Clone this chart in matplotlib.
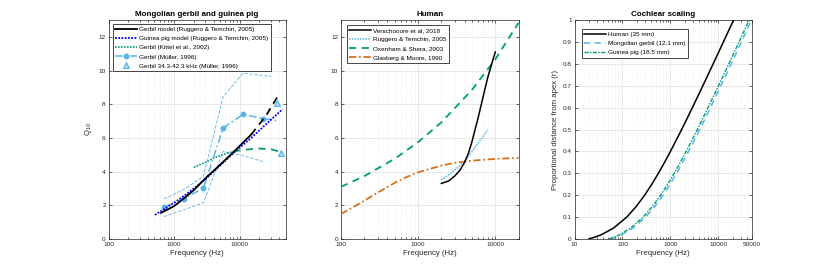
import matplotlib
matplotlib.use("Agg")
import matplotlib.pyplot as plt
from matplotlib.ticker import LogLocator, NullFormatter, FixedLocator, FixedFormatter

plt.rcParams['font.family'] = ['Liberation Sans', 'DejaVu Sans']
plt.rcParams['mathtext.default'] = 'regular'

# ---------------- data: panel 1 (gerbil & guinea pig) ----------------
gerbil_model_f = [630, 1000, 1400, 2000, 3000, 5000, 8000, 15000]
gerbil_model_q = [1.55, 1.95, 2.4, 2.9, 3.6, 4.4, 5.15, 6.2]
gerbil_model_ext_f = [15000, 25000, 40000]
gerbil_model_ext_q = [6.2, 7.3, 8.6]

gpig_model_f = [510, 1000, 1400, 2000, 3000, 5000, 8000, 15000, 25000, 45000]
gpig_model_q = [1.43, 2.15, 2.55, 3.0, 3.55, 4.35, 5.1, 6.0, 6.8, 7.7]

kittel_f = [2000, 3000, 4000, 5000, 6000, 8000]
kittel_q = [4.25, 4.55, 4.8, 4.95, 5.05, 5.2]
kittel_ext_f = [8000, 12000, 20000, 30000, 40000]
kittel_ext_q = [5.2, 5.3, 5.37, 5.33, 5.2]

muller_f = [700, 1400, 2800, 5600, 11300, 22600, 40000]
muller_q = [1.89, 2.39, 3.02, 6.6, 7.4, 7.15, 7.0]
muller_up_f = [700, 1400, 2800, 5600, 11300, 30000]
muller_up_q = [2.39, 2.93, 3.72, 8.45, 9.85, 9.65]
muller_lo_f = [700, 1400, 2800, 5600, 11300, 22600]
muller_lo_q = [1.33, 1.73, 2.15, 5.2, 4.95, 4.6]

muller_hi_f = [37000, 42300]
muller_hi_q = [8.06, 5.1]

# ---------------- data: panel 2 (human) ----------------
versch_f = [2000, 2500, 3000, 3500, 4000, 4500, 5000, 6000, 7000, 8000, 9000, 10000]
versch_q = [3.3, 3.45, 3.75, 4.1, 4.55, 5.1, 5.8, 7.2, 8.5, 9.6, 10.4, 11.1]

rt_human_f = [2000, 3000, 4000, 5000, 6000, 7000, 8000]
rt_human_q = [3.5, 4.1, 4.6, 5.2, 5.7, 6.1, 6.5]

oxen_f = [100, 200, 500, 1000, 2000, 5000, 10000, 20000]
oxen_q = [3.1, 3.73, 4.77, 5.75, 6.92, 8.86, 10.66, 12.83]

gm_f = [100, 200, 300, 500, 700, 1000, 2000, 3000, 5000, 10000, 20000]
gm_q = [1.48, 2.27, 2.76, 3.34, 3.67, 3.96, 4.36, 4.52, 4.65, 4.76, 4.81]

# ---------------- data: panel 3 (cochlear scaling) ----------------
r_pos = [0, 0.01, 0.02, 0.05, 0.1, 0.15, 0.2, 0.25, 0.3, 0.35, 0.4, 0.5, 0.6, 0.7, 0.8, 0.9, 1.0]
human_f = [19.8, 28.0, 36.7, 65.2, 122.7, 196, 289.5, 408.5, 560, 753, 998.7, 1710, 2865, 4735, 7770, 12693, 20677]
gerbil_f = [57, 76, 97, 165, 303, 478, 700, 983, 1343, 1800, 2385, 4075, 6815, 11250, 18450, 30130, 49000]
gpig_f = [52.5, 69.7, 88.2, 148.4, 270, 425, 623, 875, 1196, 1604, 2124, 3630, 6073, 10031, 16454, 26870, 43764]

q_ticks = [0, 2, 4, 6, 8, 10, 12]
r_ticks = [0, 0.1, 0.2, 0.3, 0.4, 0.5, 0.6, 0.7, 0.8, 0.9, 1]
r_tick_labels = ['0', '0.1', '0.2', '0.3', '0.4', '0.5', '0.6', '0.7', '0.8', '0.9', '1']

# ---------------- styling ----------------
LBLUE = '#56B4E9'
TEAL = '#009E73'
ORANGE = '#D9711C'
AXC = '#262626'
TICK_FS = 4.6
LAB_FS = 5.6
TITLE_FS = 5.8
LEG_FS = 4.6

fig = plt.figure(figsize=(8.30, 2.69), dpi=100)
W, H = 830.0, 269.0


def make_ax(left, right, top=20.0, bottom=239.0):
    return fig.add_axes([left / W, (H - bottom) / H, (right - left) / W, (bottom - top) / H])


def style(ax, xticks, xlabels):
    ax.set_xscale('log')
    ax.xaxis.set_major_locator(FixedLocator(xticks))
    ax.xaxis.set_major_formatter(FixedFormatter(xlabels))
    ax.xaxis.set_minor_locator(LogLocator(base=10, subs=range(2, 10), numticks=20))
    ax.xaxis.set_minor_formatter(NullFormatter())
    ax.tick_params(which='both', direction='in', top=True, right=True,
                   labelsize=TICK_FS, colors=AXC, width=0.5, pad=2)
    ax.tick_params(which='major', length=2.5)
    ax.tick_params(which='minor', length=1.3)
    for s in ax.spines.values():
        s.set_color(AXC)
        s.set_linewidth(0.5)
    ax.grid(True, which='major', color='#e0e0e0', linewidth=0.5)
    ax.grid(True, which='minor', axis='x', color='#e3e3e3', linewidth=0.4, linestyle=(0, (1, 1.5)))
    ax.set_axisbelow(True)
    ax.set_xlabel('Frequency (Hz)', fontsize=LAB_FS, color=AXC, labelpad=2)


def legend(ax, x, y):
    leg = ax.legend(loc='upper left', bbox_to_anchor=(x, y), borderaxespad=0,
                    fontsize=LEG_FS, handlelength=3.4, handletextpad=0.3,
                    labelspacing=0.58, borderpad=0.4, fancybox=False,
                    framealpha=1, edgecolor=AXC)
    leg.get_frame().set_linewidth(0.6)
    return leg


# ---------------- panel 1 ----------------
ax1 = make_ax(108.5, 285.5)
ax1.plot(gerbil_model_f, gerbil_model_q, color='black', lw=1.3,
         label='Gerbil model (Ruggero & Temchin, 2005)', zorder=5)
ax1.plot(gerbil_model_ext_f, gerbil_model_ext_q, color='black', lw=1.3,
         linestyle=(0, (4, 3)), zorder=5)
ax1.plot(gpig_model_f, gpig_model_q, color='#0000ff', lw=1.3, linestyle=(0, (1, 0.8)),
         label='Guinea pig model (Ruggero & Temchin, 2005)', zorder=4)
ax1.plot(kittel_f, kittel_q, color=TEAL, lw=1.2, linestyle=(0, (1, 0.8)),
         label='Gerbil (Kittel et al., 2002)', zorder=3)
ax1.plot(kittel_ext_f, kittel_ext_q, color=TEAL, lw=1.3, linestyle=(0, (4, 3)), zorder=3)
ax1.plot(muller_f, muller_q, color=LBLUE, lw=1.1, linestyle=(0, (5, 2, 1, 2)),
         marker='o', markersize=3.2, markevery=list(range(6)),
         label='Gerbil (Müller, 1996)', zorder=3)
ax1.plot(muller_up_f, muller_up_q, color=LBLUE, lw=0.6, linestyle=(0, (4, 2)), zorder=2)
ax1.plot(muller_lo_f, muller_lo_q, color=LBLUE, lw=0.6, linestyle=(0, (4, 2)), zorder=2)
ax1.plot(muller_hi_f, muller_hi_q, linestyle='none', marker='^', markersize=4,
         markerfacecolor='#a9d8f3', markeredgecolor=LBLUE, markeredgewidth=0.8,
         label='Gerbil 34.3-42.3 kHz (Müller, 1996)', zorder=6)
ax1.set_xlim(100, 50000)
ax1.set_ylim(0, 13)
ax1.set_yticks(q_ticks)
style(ax1, [100, 1000, 10000], ['100', '1000', '10000'])
ax1.set_ylabel('Q$_{10}$', fontsize=LAB_FS, color=AXC, labelpad=3)
ax1.set_title('Mongolian gerbil and guinea pig', fontsize=TITLE_FS, fontweight='bold', pad=3)
legend(ax1, 0.024, 0.982)

# ---------------- panel 2 ----------------
ax2 = make_ax(341, 518.5)
ax2.plot(versch_f, versch_q, color='black', lw=1.1, label='Verschooore et al, 2018', zorder=5)
ax2.plot(rt_human_f, rt_human_q, color=LBLUE, lw=1.1, linestyle=(0, (1, 0.8)),
         label='Ruggero & Temchin, 2005', zorder=4)
ax2.plot(oxen_f, oxen_q, color=TEAL, lw=1.3, linestyle=(0, (4, 3)),
         label='Oxenham & Shera, 2003', zorder=3)
ax2.plot(gm_f, gm_q, color=ORANGE, lw=1.3, linestyle=(0, (4, 1.5, 1, 1.5)),
         label='Glasberg & Moore, 1990', zorder=3)
ax2.set_xlim(100, 20000)
ax2.set_ylim(0, 13)
ax2.set_yticks(q_ticks)
style(ax2, [100, 1000, 10000], ['100', '1000', '10000'])
ax2.set_title('Human', fontsize=TITLE_FS, fontweight='bold', pad=3)
legend(ax2, 0.032, 0.977)

# ---------------- panel 3 ----------------
ax3 = make_ax(574.5, 752)
ax3.plot(human_f, r_pos, color='black', lw=1.1, label='Human (35 mm)', zorder=4)
ax3.plot(gerbil_f, r_pos, color=LBLUE, lw=1.1, linestyle=(0, (4, 3)),
         label='Mongolian gerbil (12.1 mm)', zorder=3)
ax3.plot(gpig_f, r_pos, color=TEAL, lw=1.0, linestyle=(0, (3, 1, 1, 1)),
         label='Guinea pig (18.5 mm)', zorder=3)
ax3.set_xlim(10, 50000)
ax3.set_ylim(0, 1)
ax3.set_yticks(r_ticks)
ax3.set_yticklabels(r_tick_labels)
style(ax3, [10, 100, 1000, 10000, 50000], ['10', '100', '1000', '10000', '50000'])
ax3.set_ylabel('Proportional distance from apex (r)', fontsize=LAB_FS, color=AXC, labelpad=3)
ax3.set_title('Cochlear scaling', fontsize=TITLE_FS, fontweight='bold', pad=3)
legend(ax3, 0.04, 0.959)

fig.savefig('out.png', dpi=100)
